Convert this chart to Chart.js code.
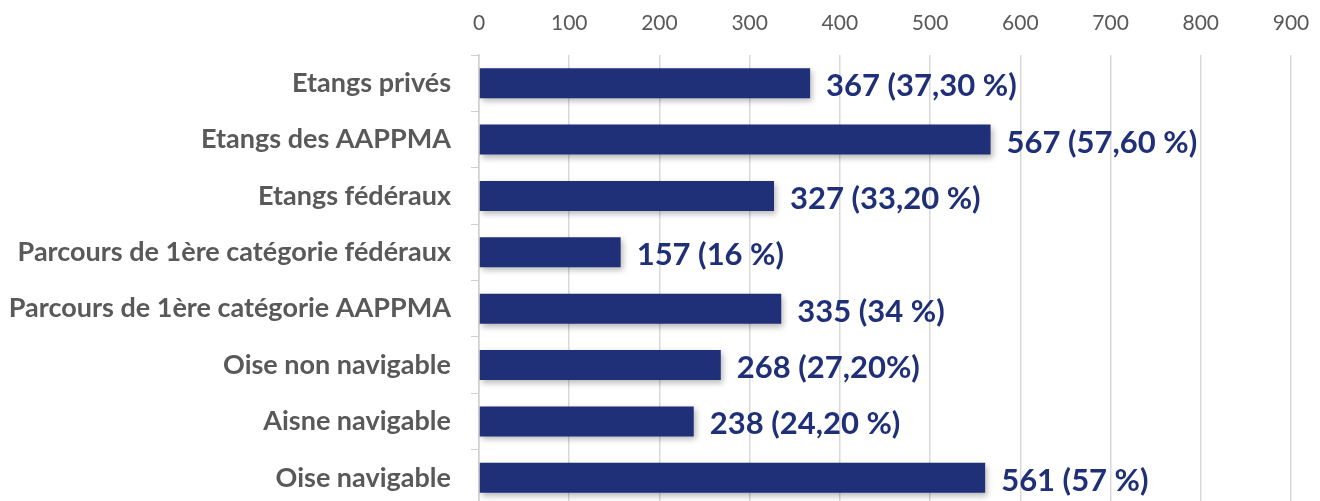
<!DOCTYPE html>
<html>
<head>
<meta charset="utf-8">
<script src="https://cdn.jsdelivr.net/npm/chart.js@4"></script>
<style>
  html, body { margin: 0; padding: 0; background: #fff; overflow: hidden; }
</style>
</head>
<body>
<canvas id="graphique" width="1320" height="512"></canvas>
<script>
// donnees
const categories = ['Etangs privés', 'Etangs des AAPPMA', 'Etangs fédéraux',
  'Parcours de 1ère catégorie fédéraux', 'Parcours de 1ère catégorie AAPPMA',
  'Oise non navigable', 'Aisne navigable', 'Oise navigable'];
const valeurs = [367, 567, 327, 157, 335, 268, 238, 561];
const etiquettes = ['367 (37,30 %)', '567 (57,60 %)', '327 (33,20 %)', '157 (16 %)',
  '335 (34 %)', '268 (27,20%)', '238 (24,20 %)', '561 (57 %)'];
const axeMin = 0, axeMax = 900, axePas = 100;

const bleu = '#1f2f78';
const gris = '#595959';

// ombre des barres + etiquettes de valeur
const ombre = {
  id: 'ombre',
  beforeDatasetsDraw(chart) {
    const c = chart.ctx;
    c.save();
    c.shadowColor = 'rgba(0,0,0,0.28)';
    c.shadowBlur = 6;
    c.shadowOffsetX = 2;
    c.shadowOffsetY = 3;
  },
  afterDatasetsDraw(chart) {
    chart.ctx.restore();
    const c = chart.ctx;
    const meta = chart.getDatasetMeta(0);
    c.save();
    c.font = 'bold 31px Lato';
    c.fillStyle = bleu;
    c.textAlign = 'left';
    c.textBaseline = 'middle';
    meta.data.forEach((bar, i) => {
      c.fillText(etiquettes[i], bar.x + 16, bar.y + 3);
    });
    c.restore();
  }
};

new Chart(document.getElementById('graphique'), {
  type: 'bar',
  data: {
    labels: categories,
    datasets: [{
      data: valeurs,
      backgroundColor: bleu,
      borderWidth: 0,
      categoryPercentage: 1,
      barPercentage: 0.53
    }]
  },
  options: {
    indexAxis: 'y',
    responsive: false,
    animation: false,
    layout: { padding: { left: 0, right: 29, top: 0, bottom: 6 } },
    plugins: { legend: { display: false }, tooltip: { enabled: false } },
    scales: {
      x: {
        position: 'top',
        min: axeMin,
        max: axeMax,
        ticks: { stepSize: axePas, color: gris, font: { family: 'Lato', size: 21 }, padding: 19 },
        grid: { color: '#d9d9d9', lineWidth: 1.5, drawTicks: false },
        border: { display: false },
        afterFit(s) { s.height = 55; s.paddingLeft = 0; s.paddingRight = 0; }
      },
      y: {
        ticks: { color: gris, font: { family: 'Lato', size: 27, weight: 'bold' }, padding: 20 },
        grid: { display: true, drawOnChartArea: false, offset: true, color: '#d0d0d0', tickLength: 8 },
        border: { display: true, color: '#d0d0d0', width: 1.5 },
        afterFit(s) { s.width = 479; s.paddingTop = 0; s.paddingBottom = 0; }
      }
    }
  },
  plugins: [ombre]
});
</script>
</body>
</html>
